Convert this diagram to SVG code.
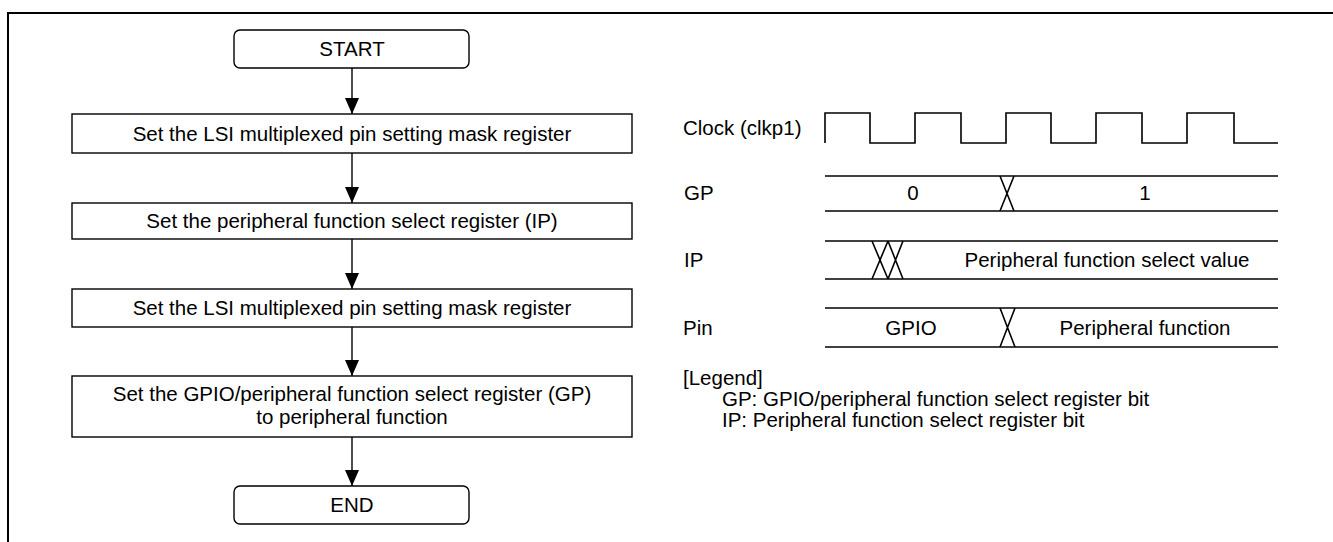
<svg xmlns="http://www.w3.org/2000/svg" width="1333" height="542" viewBox="0 0 1333 542">
<style>
text{font-family:"Liberation Sans",Arial,sans-serif;font-size:20.5px;fill:#000}
.c{text-anchor:middle}
.box{fill:#fff;stroke:#000;stroke-width:1.4}
.wl{fill:none;stroke:#000;stroke-width:1.6}
.edge{fill:none;stroke:#000;stroke-width:1.4}
</style>
<defs>
<marker id="ah" viewBox="0 0 16 14" refX="16" refY="7" markerWidth="16" markerHeight="14" markerUnits="userSpaceOnUse" orient="auto">
<path d="M0,0 L16,7 L0,14 Z" fill="#000"/>
</marker>
</defs>
<rect width="1333" height="542" fill="#fff"/>
<path d="M8,542 V13 H1333" fill="none" stroke="#000" stroke-width="2"/>

<g id="start"><rect class="box" x="234" y="30" width="235" height="38" rx="6"/><text class="c" x="352" y="56">START</text></g>
<g id="step1"><rect class="box" x="72" y="114" width="560" height="39"/><text class="c" x="352" y="141">Set the LSI multiplexed pin setting mask register</text></g>
<g id="step2"><rect class="box" x="72" y="203" width="560" height="36"/><text class="c" x="352" y="228">Set the peripheral function select register (IP)</text></g>
<g id="step3"><rect class="box" x="72" y="289" width="560" height="38"/><text class="c" x="352" y="315">Set the LSI multiplexed pin setting mask register</text></g>
<g id="step4"><rect class="box" x="72" y="376" width="560" height="61"/><text class="c" x="352" y="401">Set the GPIO/peripheral function select register (GP)</text><text class="c" x="352" y="424">to peripheral function</text></g>
<g id="end"><rect class="box" x="234" y="486" width="235" height="38" rx="6"/><text class="c" x="352" y="512">END</text></g>

<g id="connectors">
<line class="edge" x1="352" y1="68" x2="352" y2="114" marker-end="url(#ah)"/>
<line class="edge" x1="352" y1="153" x2="352" y2="203" marker-end="url(#ah)"/>
<line class="edge" x1="352" y1="239" x2="352" y2="289" marker-end="url(#ah)"/>
<line class="edge" x1="352" y1="327" x2="352" y2="376" marker-end="url(#ah)"/>
<line class="edge" x1="352" y1="437" x2="352" y2="486" marker-end="url(#ah)"/>
</g>

<g id="timing">
<text x="683" y="135">Clock (clkp1)</text>
<path class="wl" d="M825,143 V113 H870 V143 H915 V113 H961 V143 H1006 V113 H1051 V143 H1096 V113 H1142 V143 H1187 V113 H1234 V143 H1278"/>

<text x="684" y="200">GP</text>
<line class="wl" x1="825" y1="176" x2="1278" y2="176"/>
<line class="wl" x1="825" y1="211" x2="1278" y2="211"/>
<path class="wl" d="M1000,176 L1014,211 M1014,176 L1000,211"/>
<text class="c" x="913" y="200">0</text>
<text class="c" x="1145" y="200">1</text>

<text x="684" y="267">IP</text>
<line class="wl" x1="825" y1="241" x2="1278" y2="241"/>
<line class="wl" x1="825" y1="279" x2="1278" y2="279"/>
<path class="wl" d="M872,241 L888,279 M888,241 L872,279 M888,241 L903,279 M903,241 L888,279"/>
<text class="c" x="1107" y="267">Peripheral function select value</text>

<text x="683" y="335">Pin</text>
<line class="wl" x1="825" y1="308" x2="1278" y2="308"/>
<line class="wl" x1="825" y1="347" x2="1278" y2="347"/>
<path class="wl" d="M1000,308 L1015,347 M1015,308 L1000,347"/>
<text class="c" x="911" y="335">GPIO</text>
<text class="c" x="1145" y="335">Peripheral function</text>
</g>

<g id="legend">
<text x="683" y="385">[Legend]</text>
<text x="722" y="406">GP: GPIO/peripheral function select register bit</text>
<text x="722" y="427">IP: Peripheral function select register bit</text>
</g>
</svg>
